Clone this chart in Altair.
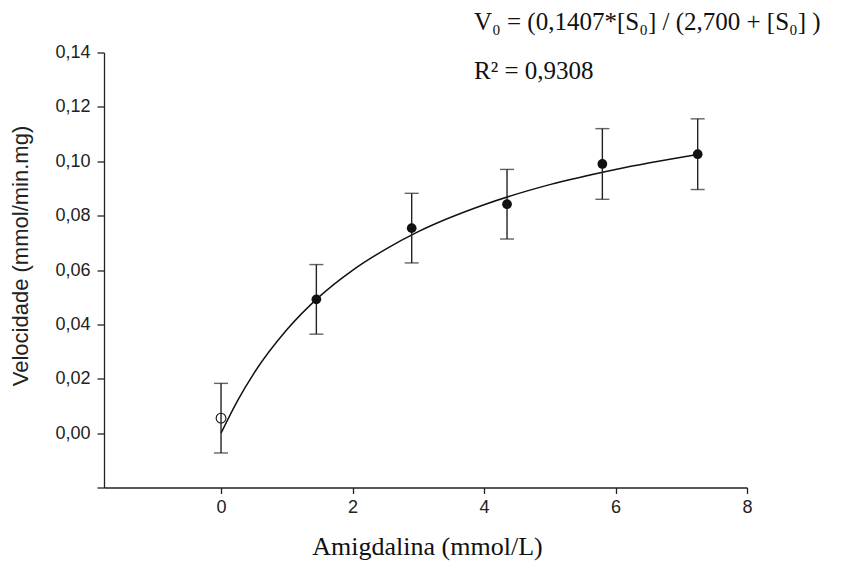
import altair as alt
import pandas as pd

conc = [0.0, 1.45, 2.9, 4.35, 5.8, 7.25]
vel = [0.0055, 0.0492, 0.0754, 0.0842, 0.0990, 0.1026]
err = [0.0128, 0.0128, 0.0128, 0.0128, 0.0130, 0.0130]
filled = [False, True, True, True, True, True]

# Fitted Michaelis-Menten curve
curve_x = [0.0, 0.25, 0.5, 1.0, 1.5, 2.0, 2.5, 3.0, 4.0, 5.0, 6.0, 7.25]
curve_y = [0.0, 0.0119, 0.0220, 0.0380, 0.0503, 0.0599, 0.0676, 0.0741, 0.0840, 0.0914, 0.0970, 0.1025]

x_ticks = [0, 2, 4, 6, 8]
y_ticks = [-0.02, 0.0, 0.02, 0.04, 0.06, 0.08, 0.10, 0.12, 0.14]

equation = "V₀ = (0,1407*[S₀] / (2,700 + [S₀] )"
r2_text = "R² = 0,9308"

pts = pd.DataFrame({"x": conc, "y": vel, "e": err, "filled": filled})
pts["lo"] = pts["y"] - pts["e"]
pts["hi"] = pts["y"] + pts["e"]
curve = pd.DataFrame({"x": curve_x, "y": curve_y})

xscale = alt.Scale(domain=[-1.78, 8], nice=False, zero=False)
yscale = alt.Scale(domain=[-0.02, 0.14], nice=False, zero=False)

xaxis = alt.Axis(
    values=x_ticks, format="d", grid=False, title="Amigdalina (mmol/L)",
    titleFont="Liberation Serif", titleFontSize=26, titleFontWeight="normal",
    titleColor="#111", titleX=323, titleY=67, titleBaseline="alphabetic", titleAlign="center",
    labelFont="Liberation Sans", labelFontSize=18, labelColor="#222", labelPadding=5,
    tickSize=6, tickColor="#222", tickWidth=1.3, domainColor="#222", domainWidth=1.3,
    labelFlush=False,
)
yaxis = alt.Axis(
    values=y_ticks, grid=False, title="Velocidade (mmol/min.mg)",
    labelExpr="datum.value < -0.01 ? '' : replace(format(datum.value, '.2f'), '.', ',')",
    titleFont="Liberation Sans", titleFontSize=22, titleFontWeight="normal",
    titleColor="#222", titleX=-84, titleY=203, titleBaseline="middle", titleAlign="center",
    labelFont="Liberation Sans", labelFontSize=18, labelColor="#222", labelPadding=7,
    tickSize=7, tickColor="#222", tickWidth=1.3, domainColor="#222", domainWidth=1.3,
    labelFlush=False,
)

base = alt.Chart(pts)

line = alt.Chart(curve).mark_line(color="#111", strokeWidth=1.5, interpolate="monotone").encode(
    x=alt.X("x:Q", scale=xscale, axis=xaxis),
    y=alt.Y("y:Q", scale=yscale, axis=yaxis),
)

bars = base.mark_rule(color="#222", strokeWidth=1.4).encode(
    x=alt.X("x:Q", scale=xscale),
    y=alt.Y("lo:Q", scale=yscale),
    y2="hi:Q",
)
cap_lo = base.mark_tick(color="#222", orient="horizontal", size=14, thickness=1.4).encode(
    x=alt.X("x:Q", scale=xscale),
    y=alt.Y("lo:Q", scale=yscale),
)
cap_hi = base.mark_tick(color="#222", orient="horizontal", size=14, thickness=1.4).encode(
    x=alt.X("x:Q", scale=xscale),
    y=alt.Y("hi:Q", scale=yscale),
)
dots = base.transform_filter("datum.filled").mark_point(
    filled=True, color="#111", size=95, opacity=1, shape="circle"
).encode(
    x=alt.X("x:Q", scale=xscale),
    y=alt.Y("y:Q", scale=yscale),
)
open_dots = base.transform_filter("!datum.filled").mark_point(
    filled=False, color="#111", size=95, strokeWidth=1.1, opacity=1, shape="circle"
).encode(
    x=alt.X("x:Q", scale=xscale),
    y=alt.Y("y:Q", scale=yscale),
)

eq = alt.Chart(pd.DataFrame({"t": [equation]})).mark_text(
    font="Liberation Serif", fontSize=25, color="#111", align="left", baseline="alphabetic"
).encode(x=alt.value(370), y=alt.value(-22.5), text="t:N")
r2 = alt.Chart(pd.DataFrame({"t": [r2_text]})).mark_text(
    font="Liberation Serif", fontSize=25, color="#111", align="left", baseline="alphabetic"
).encode(x=alt.value(370), y=alt.value(26), text="t:N")

chart = alt.layer(line, bars, cap_lo, cap_hi, dots, open_dots, eq, r2).properties(
    width=643, height=435,
    autosize=alt.AutoSizeParams(type="none"),
    padding={"left": 96, "top": 44.5, "right": 100, "bottom": 74},
).configure(background="white").configure_view(stroke=None, strokeWidth=0)

chart.save("out.html", embed_options={"renderer": "svg", "actions": False})
